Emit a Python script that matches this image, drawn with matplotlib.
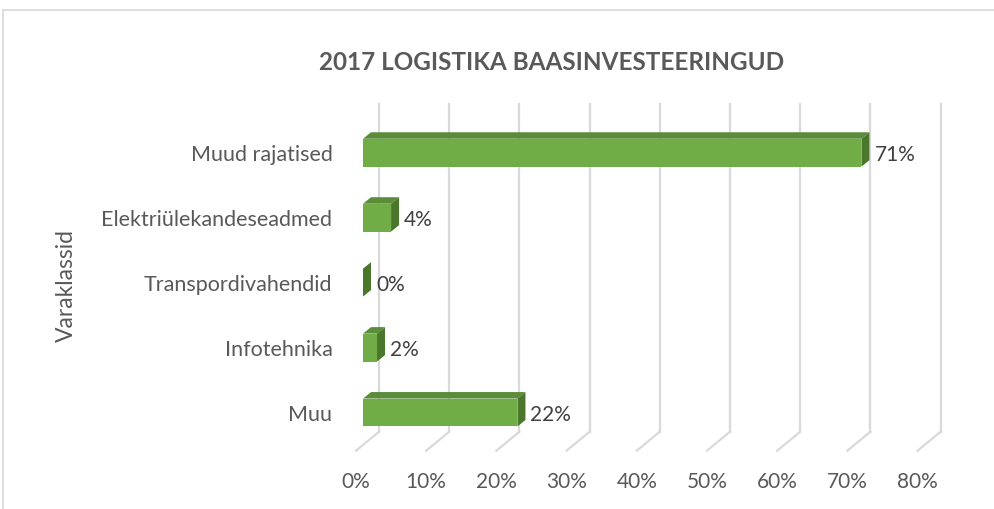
import numpy as np
import matplotlib
matplotlib.use("Agg")
import matplotlib.pyplot as plt
from matplotlib.lines import Line2D

# ------------------------------
# Datos
# ------------------------------
categorias = ["Muud rajatised", "Elektriülekandeseadmed", "Transpordivahendid",
              "Infotehnika", "Muu"]
valores = [0.71, 0.04, 0.00, 0.02, 0.22]
etiquetas = ["71%", "4%", "0%", "2%", "22%"]
ticks_x = [0.0, 0.1, 0.2, 0.3, 0.4, 0.5, 0.6, 0.7, 0.8]
ticks_x_txt = ["0%", "10%", "20%", "30%", "40%", "50%", "60%", "70%", "80%"]
titulo = "2017 LOGISTIKA BAASINVESTEERINGUD"
eje_y = "Varaklassid"

# colores
c_frente = "#70AD47"
c_arriba = "#5B8C3A"
c_lado = "#4A772C"
c_grid = "#D9D9D9"
c_texto = "#595959"

plt.rcParams['font.family'] = ['Lato', 'DejaVu Sans']

W, H = 995, 509
fig = plt.figure(figsize=(W / 100, H / 100), dpi=100)
ax = fig.add_axes([363 / W, (H - 445) / H, 561.6 / W, 328 / H])
ax.set_xlim(0, 0.8)
ax.set_ylim(-0.5, 4.55)
for s in ax.spines.values():
    s.set_visible(False)
ax.set_facecolor("none")

# conversion de pixeles a unidades de datos (ejes lineales)
px_x = 0.8 / 561.6
px_y = 5.05 / 328


def off(dx, dy):
    return dx * px_x, dy * px_y


# desplazamientos de profundidad (pixeles, y hacia arriba)
fondo = off(16, 13.3)      # plano trasero de la cuadricula
suelo = off(-7, -5.7)      # borde frontal del suelo
prof = off(8, 6.5)         # profundidad de las barras
alto = 0.43

ymin, ymax = ax.get_ylim()

# cuadricula 3D
for t in ticks_x:
    ax.plot([t + fondo[0]] * 2, [ymin + fondo[1], ymax + fondo[1]],
            color=c_grid, lw=1.6, clip_on=False, zorder=1)
    ax.plot([t + fondo[0], t + suelo[0]], [ymin + fondo[1], ymin + suelo[1]],
            color=c_grid, lw=1.6, clip_on=False, zorder=1)

# barras 3D
pos_y = np.arange(len(categorias))[::-1]
for y, v, txt in zip(pos_y, valores, etiquetas):
    y0, y1 = y - alto / 2, y + alto / 2
    # cara superior
    ax.fill([0, v, v + prof[0], prof[0]], [y1, y1, y1 + prof[1], y1 + prof[1]],
            color=c_arriba, lw=0, clip_on=False, zorder=3)
    # cara lateral
    ax.fill([v, v + prof[0], v + prof[0], v], [y0, y0 + prof[1], y1 + prof[1], y1],
            color=c_lado, lw=0, clip_on=False, zorder=3)
    # cara frontal
    if v > 0:
        ax.barh(y, v, height=alto, color=c_frente, zorder=4)
    ax.text(v + prof[0] + 5 * px_x, y - 2 * px_y, txt, ha="left", va="center",
            fontsize=15, color="#404040", zorder=5)

# etiquetas de ejes
ax.set_yticks(pos_y)
ax.set_yticklabels(categorias, fontsize=15.5, color=c_texto)
ax.tick_params(axis="y", length=0, pad=22)
ax.set_xticks([])
for t, s in zip(ticks_x, ticks_x_txt):
    ax.text(t + suelo[0], ymin - 37 * px_y, s, ha="center", va="center",
            fontsize=15, color=c_texto, clip_on=False)

fig.text(552 / W, (H - 62) / H, titulo, ha="center", va="center",
         fontsize=17.5, fontweight="bold", color=c_texto)
fig.text(66 / W, (H - 285) / H, eje_y, ha="center", va="center",
         rotation=90, fontsize=16.5, color=c_texto)

# marco del grafico
fig.add_artist(Line2D([3.5 / W, 1], [1 - 9.5 / H] * 2, color=c_grid, lw=1.2,
                      transform=fig.transFigure))
fig.add_artist(Line2D([3.5 / W] * 2, [0, 1 - 9.5 / H], color=c_grid, lw=1.2,
                      transform=fig.transFigure))

fig.savefig("out.png", dpi=100)
